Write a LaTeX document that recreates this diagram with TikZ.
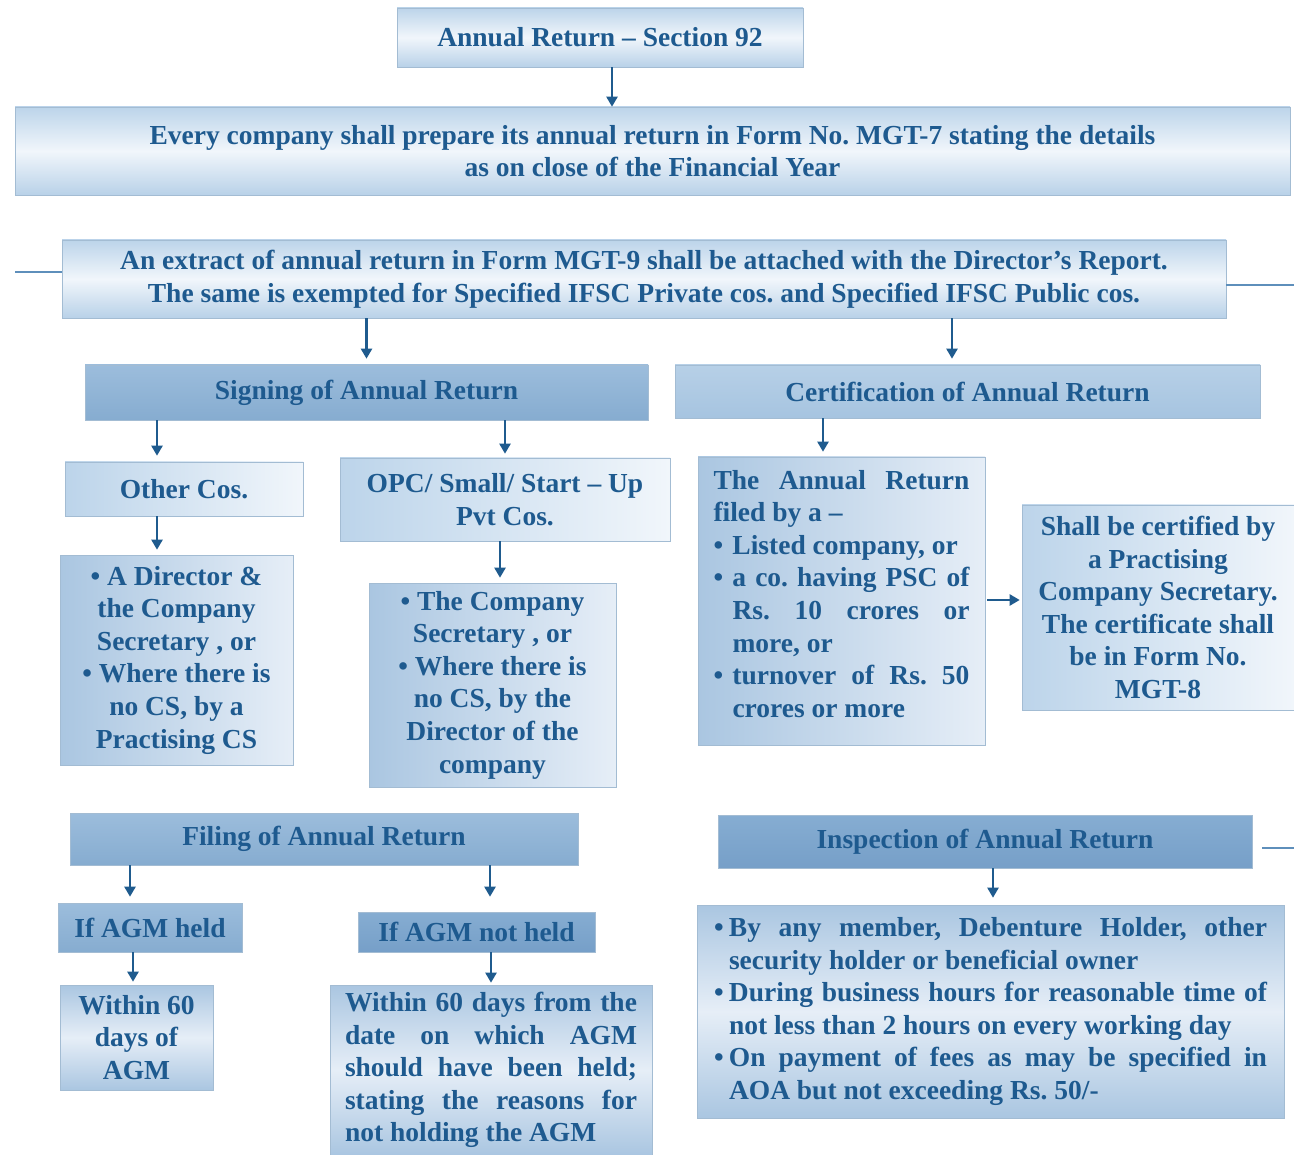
\documentclass[tikz,border=0pt]{standalone}
\usepackage{fontspec}
\setmainfont{Liberation Serif}
\usetikzlibrary{arrows.meta,calc}
\definecolor{tx}{HTML}{1E5A8F}
\definecolor{arrc}{HTML}{1F5B8E}
\definecolor{bordc}{HTML}{A3BCD3}
\definecolor{sidec}{HTML}{5E8FBB}
\definecolor{lightA}{HTML}{BCD4EA}
\definecolor{lightB}{HTML}{F1F6FB}
\definecolor{hdrA}{HTML}{9CBDDC}
\definecolor{hdrB}{HTML}{86ACD0}
\definecolor{inspA}{HTML}{86ADD2}
\definecolor{inspB}{HTML}{769FC8}
\definecolor{certA}{HTML}{B7D0E7}
\definecolor{certB}{HTML}{A6C4E0}
\definecolor{bodyA}{HTML}{AAC6E1}
\definecolor{bodyB}{HTML}{E6EEF7}
\newcommand{\jl}[2]{\makebox[#1][s]{#2}}
\frenchspacing
\begin{document}
\begin{tikzpicture}[x=1pt,y=-1pt,
  box/.style={draw=bordc, line width=0.6pt, inner sep=0pt, text=tx, align=center,
    font=\fontsize{27.5}{32.6}\selectfont\bfseries\frenchspacing},
  light/.style={box, left color=lightA, right color=lightB},
  lightv/.style={box, top color=lightA, bottom color=lightA!80!bodyA, middle color=lightB},
  hdr/.style={box, top color=hdrA, bottom color=hdrB},
  insph/.style={box, top color=inspA, bottom color=inspB},
  certh/.style={box, top color=certA, bottom color=certB},
  body/.style={box, left color=bodyA, right color=bodyB},
  bodyv/.style={box, top color=bodyA, bottom color=bodyA, middle color=bodyB},
  arr/.style={draw=arrc, line width=2.2pt, -{Triangle[length=10pt,width=11pt]}},
  side/.style={draw=sidec, line width=1.6pt}]
\useasboundingbox[fill=white] (0,0) rectangle (1294,1155);

% top
\node[lightv, minimum width=406pt, minimum height=59pt] (title) at (600,37.5) {Annual Return -- Section 92};
\node[lightv, minimum width=1275pt, minimum height=88pt] (box2) at (652.5,151)
  {Every company shall prepare its annual return in Form No. MGT-7 stating the details\\as on close of the Financial Year};
\node[lightv, minimum width=1164pt, minimum height=78pt] (box3) at (644,279)
  {An extract of annual return in Form MGT-9 shall be attached with the Director’s Report.\\The same is exempted for Specified IFSC Private cos. and Specified IFSC Public cos.};

% headers
\node[hdr, minimum width=563pt, minimum height=55pt] (sign) at (366.5,392.5) {Signing of Annual Return};
\node[certh, minimum width=585pt, minimum height=53pt] (cert) at (967.5,391.5) {Certification of Annual Return};

% signing branch
\node[light, minimum width=238pt, minimum height=54pt] (other) at (184,489) {Other Cos.};
\node[light, minimum width=330pt, minimum height=83pt] (opc) at (505,499.5) {OPC/ Small/ Start -- Up\\Pvt Cos.};
\node[body, minimum width=233pt, minimum height=210pt] (otherbody) at (176.5,660)
  {• A Director \&\\the Company\\Secretary , or\\• Where there is\\no CS, by a\\Practising CS};
\node[body, minimum width=247pt, minimum height=204pt] (opcbody) at (492.5,685)
  {• The Company\\Secretary , or\\• Where there is\\no CS, by the\\Director of the\\company};

% certification branch
\node[body, minimum width=287pt, minimum height=288pt, align=left] (certbody) at (841.5,601)
  {\jl{256pt}{The Annual Return}\\
   filed by a --\\
   \makebox[19pt][l]{•}Listed company, or\\
   \makebox[19pt][l]{•}\jl{237pt}{a co. having PSC of}\\
   \hspace*{19pt}\jl{237pt}{Rs. 10 crores or}\\
   \hspace*{19pt}more, or\\
   \makebox[19pt][l]{•}\jl{237pt}{turnover of Rs. 50}\\
   \hspace*{19pt}crores or more\\[-18pt]\mbox{}};
\node[light, minimum width=272pt, minimum height=205pt] (certside) at (1158,607.5)
  {Shall be certified by\\a Practising\\Company Secretary.\\The certificate shall\\be in Form No.\\MGT-8};

% filing
\node[hdr, minimum width=508pt, minimum height=52pt] (filing) at (324,839) {Filing of Annual Return};
\node[hdr, minimum width=184pt, minimum height=49pt] (held) at (150,927.5) {If AGM held};
\node[insph, minimum width=237pt, minimum height=40pt] (notheld) at (476.5,932) {If AGM not held};
\node[bodyv, minimum width=153pt, minimum height=105pt] (within1) at (136.5,1037.5) {Within 60\\days of\\AGM};
\node[bodyv, minimum width=322pt, minimum height=170pt, align=left] (within2) at (491,1070)
  {\jl{292pt}{Within 60 days from the}\\
   \jl{292pt}{date on which AGM}\\
   \jl{292pt}{should have been held;}\\
   \jl{292pt}{stating the reasons for}\\
   not holding the AGM};

% inspection
\node[insph, minimum width=534pt, minimum height=53pt] (insp) at (985,841.5) {Inspection of Annual Return};
\node[bodyv, minimum width=587pt, minimum height=213pt, align=left] (inspbody) at (990.5,1011.5)
  {\makebox[15pt][l]{•}\jl{538pt}{By any member, Debenture Holder, other}\\
   \hspace*{15pt}security holder or beneficial owner\\
   \makebox[15pt][l]{•}\jl{538pt}{During business hours for reasonable time of}\\
   \hspace*{15pt}not less than 2 hours on every working day\\
   \makebox[15pt][l]{•}\jl{538pt}{On payment of fees as may be specified in}\\
   \hspace*{15pt}AOA but not exceeding Rs. 50/-};

% connectors
\draw[arr] ([xshift=12]title.south) -- ([xshift=12]title.south |- box2.north);
\draw[arr, shorten >=6pt] (sign.north |- box3.south) -- (sign.north);
\draw[arr, shorten >=6pt] ([xshift=-15.5]cert.north |- box3.south) -- ([xshift=-15.5]cert.north);
\draw[arr, shorten >=6pt] ([xshift=-27]other.north |- sign.south) -- ([xshift=-27]other.north);
\draw[arr, shorten >=4pt] (opc.north |- sign.south) -- (opc.north);
\draw[arr, shorten >=5pt] ([xshift=-19.5]otherbody.north |- other.south) -- ([xshift=-19.5]otherbody.north);
\draw[arr, shorten >=5pt] ([xshift=7.5]opcbody.north |- opc.south) -- ([xshift=7.5]opcbody.north);
\draw[arr, shorten >=5pt] ([xshift=-18.5]certbody.north |- cert.south) -- ([xshift=-18.5]certbody.north);
\draw[arr, shorten <=2pt, shorten >=2pt] ([yshift=1]certbody.east) -- ([yshift=1]certbody.east -| certside.west);
\draw[arr, shorten >=6pt] ([xshift=-20]held.north |- filing.south) -- ([xshift=-20]held.north);
\draw[arr, shorten >=15pt] ([xshift=13.5]notheld.north |- filing.south) -- ([xshift=13.5]notheld.north);
\draw[arr, shorten >=3pt] ([xshift=-3.5]within1.north |- held.south) -- ([xshift=-3.5]within1.north);
\draw[arr, shorten >=2pt] (within2.north |- notheld.south) -- (within2.north);
\draw[arr, shorten >=7pt] ([xshift=2.5]inspbody.north |- insp.south) -- ([xshift=2.5]inspbody.north);

% side lines
\coordinate (sl) at (15,272);
\coordinate (sr) at (1294,285);
\coordinate (ir) at (1294,848);
\draw[side] (sl) -- (sl -| box3.west);
\draw[side] (box3.east |- sr) -- (sr);
\draw[side] ([xshift=10]insp.east |- ir) -- (ir);
\end{tikzpicture}
\end{document}
